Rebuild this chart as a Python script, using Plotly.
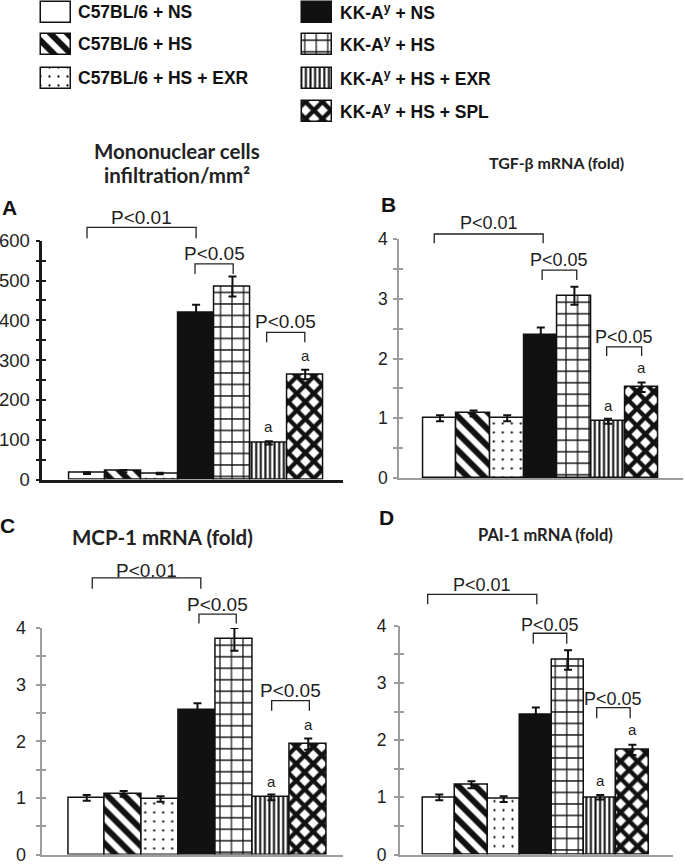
import plotly.graph_objects as go

# ---------------- data ----------------
groups = ["C57BL/6 + NS", "C57BL/6 + HS", "C57BL/6 + HS + EXR",
          "KK-A<sup>y</sup> + NS", "KK-A<sup>y</sup> + HS",
          "KK-A<sup>y</sup> + HS + EXR", "KK-A<sup>y</sup> + HS + SPL"]

mono_vals = [16, 21, 15, 418, 485, 92, 264]
mono_err = [2, 3, 2, 21, 25, 4, 12]
tgf_vals = [1.0, 1.08, 1.0, 2.4, 3.05, 0.95, 1.52]
tgf_err = [0.05, 0.05, 0.05, 0.12, 0.15, 0.04, 0.08]
mcp_vals = [1.0, 1.07, 0.98, 2.55, 3.8, 1.01, 1.95]
mcp_err = [0.05, 0.05, 0.05, 0.12, 0.2, 0.05, 0.1]
pai_vals = [1.0, 1.22, 0.97, 2.45, 3.4, 1.0, 1.83]
pai_err = [0.05, 0.06, 0.05, 0.12, 0.17, 0.04, 0.09]

mono_ticks = [0, 100, 200, 300, 400, 500, 600]
fold_ticks = [0, 1, 2, 3, 4]

comparisons = [(0, 3, "P<0.01"), (3, 4, "P<0.05"), (5, 6, "P<0.05")]
marked = [5, 6]  # bars flagged with "a"

# ---------------- styles ----------------
W, H = 685, 865
def px(x): return x / W
def py(y): return 1 - y / H

fill_colors = ["white", "white", "white", "#111111", "white", "white", "white"]
pat_shapes = ["", "\\", ".", "", "+", "|", "x"]
pat_sizes = [8, 12, 9, 8, 11.5, 4.6, 12]
pat_solid = [0.3, 0.5, 0.05, 0.3, 0.2, 0.45, 0.6]

panels = [
    dict(vals=mono_vals, err=mono_err, ticks=mono_ticks, minor=50, ymax=600,
         xd=(42.3, 343), yd=(240.7, 479.5), xr=(-1.23, 7.04), col="#1a1a1a", lw=2.5,
         title=["<b>Mononuclear cells</b>", "<b>infiltration/mm²</b>"],
         tpos=[(177, 151), (177, 175)], tfs=20.5,
         letter="A", lpos=(9, 207), fs=19, tkfs=18.5, standoff=2,
         br=[(0.0, 3.0, 1.056, 1.010, 1.097), (2.97, 4.02, 0.903, 0.861, 0.947),
             (4.94, 5.99, 0.616, 0.575, 0.662)],
         amark=[0.220, 0.518]),
    dict(vals=tgf_vals, err=tgf_err, ticks=fold_ticks, minor=0.5, ymax=4,
         xd=(399.3, 683.3), yd=(239, 478), xr=(-1.21, 7.24), col="#9c9c9c", lw=2,
         title=["<b>TGF-β mRNA (fold)</b>"], tpos=[(556, 162)], tfs=16,
         letter="B", lpos=(388, 205), fs=18, tkfs=17.5, standoff=2,
         br=[(-0.17, 3.07, 1.021, 0.982, 1.066), (3.04, 4.07, 0.870, 0.828, 0.912),
             (4.96, 6.0, 0.549, 0.510, 0.591)],
         amark=[0.305, 0.461]),
    dict(vals=mcp_vals, err=mcp_err, ticks=fold_ticks, minor=0.5, ymax=4,
         xd=(41.7, 343.3), yd=(628, 854.5), xr=(-1.22, 6.95), col="#9c9c9c", lw=2,
         title=["<b>MCP-1 mRNA (fold)</b>"], tpos=[(162, 537)], tfs=20.5,
         letter="C", lpos=(7, 525), fs=19, tkfs=18, standoff=6,
         br=[(0.15, 3.09, 1.221, 1.173, 1.256), (3.04, 4.05, 1.061, 1.020, 1.105),
             (5.01, 6.03, 0.679, 0.635, 0.725)],
         amark=[0.323, 0.573]),
    dict(vals=pai_vals, err=pai_err, ticks=fold_ticks, minor=0.5, ymax=4,
         xd=(400, 673.3), yd=(625.7, 854.5), xr=(-1.22, 7.27), col="#9c9c9c", lw=2,
         title=["<b>PAI-1 mRNA (fold)</b>"], tpos=[(545, 535)], tfs=16.5,
         letter="D", lpos=(387, 517), fs=18, tkfs=17.5, standoff=4,
         br=[(-0.36, 3.03, 1.137, 1.094, 1.176), (2.92, 3.96, 0.967, 0.921, 1.003),
             (4.89, 5.93, 0.642, 0.595, 0.681)],
         amark=[0.325, 0.545]),
]

TXT = "#1e1e1e"
ARIAL = "Liberation Sans, Arial, sans-serif"
TITLEF = "Lato, Carlito, Calibri, sans-serif"

fig = go.Figure()
layout = dict(template="none", width=W, height=H, margin=dict(l=0, r=0, t=0, b=0, pad=0),
              paper_bgcolor="white", plot_bgcolor="white", showlegend=False,
              barmode="overlay", bargap=0)
shapes, annotations = [], []


def add_bars(xs, ys, xa, ya, err=None, width=1, base=None):
    for k in range(len(xs)):
        pat = dict(shape=pat_shapes[k], size=pat_sizes[k], solidity=pat_solid[k],
                   fgcolor="#111111", bgcolor="white", fillmode="replace")
        kw = {}
        if err is not None:
            kw["error_y"] = dict(type="data", array=[err[k]], color="#111111",
                                 thickness=2, width=4)
        if base is not None:
            kw["base"] = [base[k]]
        fig.add_trace(go.Bar(
            x=[xs[k]], y=[ys[k]], xaxis=xa, yaxis=ya, width=width,
            marker=dict(color=fill_colors[k], line=dict(color="#111111", width=1.5),
                        pattern=pat), hoverinfo="skip", **kw))


for i, p in enumerate(panels):
    n = i + 1
    xa = "x" if n == 1 else f"x{n}"
    ya = "y" if n == 1 else f"y{n}"
    yo = f"y{n + 4}"
    add_bars(groups, p["vals"], xa, ya, err=p["err"])
    fig.add_trace(go.Scatter(x=[], y=[], xaxis=xa, yaxis=yo, hoverinfo="skip"))
    ticktext = [str(t) for t in p["ticks"]]
    layout[f"xaxis{'' if n == 1 else n}"] = dict(
        domain=[px(p["xd"][0]), px(p["xd"][1])], anchor=ya, range=list(p["xr"]),
        type="category", categoryorder="array", categoryarray=groups,
        showline=True, linecolor=p["col"], linewidth=p["lw"], showticklabels=False,
        ticks="", showgrid=False, zeroline=False, fixedrange=True, automargin=False)
    common = dict(range=[0, p["ymax"]], tickmode="array", tickvals=p["ticks"],
                  ticklen=4, tickwidth=2, tickcolor=p["col"], showgrid=False,
                  zeroline=False, fixedrange=True, automargin=False)
    layout[f"yaxis{'' if n == 1 else n}"] = dict(
        domain=[py(p["yd"][1]), py(p["yd"][0])], anchor=xa,
        showline=True, linecolor=p["col"], linewidth=p["lw"], ticks="outside",
        ticktext=ticktext, ticklabelstandoff=int(p["standoff"]),
        ticklabeloverflow="allow",
        tickfont=dict(family=ARIAL, size=p["tkfs"], color=TXT),
        minor=dict(dtick=p["minor"], ticks="outside", ticklen=4, tickwidth=2,
                   tickcolor=p["col"]), **common)
    layout[f"yaxis{n + 4}"] = dict(
        overlaying=ya, anchor=xa, showline=False, ticks="inside",
        showticklabels=False,
        minor=dict(dtick=p["minor"], ticks="inside", ticklen=4, tickwidth=2,
                   tickcolor=p["col"]), **common)
    for (x0, x1, yt, yb, ytxt), (_, _, label) in zip(p["br"], comparisons):
        shapes.append(dict(type="path", xref=xa, yref=f"{ya} domain",
                           path=f"M{x0},{yb} L{x0},{yt} L{x1},{yt} L{x1},{yb}",
                           line=dict(color="#222222", width=1.3)))
        annotations.append(dict(x=(x0 + x1) / 2, y=ytxt, xref=xa, yref=f"{ya} domain",
                                text=label, showarrow=False, xanchor="center",
                                yanchor="middle",
                                font=dict(family=ARIAL, size=p["fs"], color=TXT)))
    for k, yy in zip(marked, p["amark"]):
        annotations.append(dict(x=k, y=yy, xref=xa, yref=f"{ya} domain", text="a",
                                showarrow=False, xanchor="center", yanchor="middle",
                                font=dict(family=ARIAL, size=15, color=TXT)))
    for t, (tx, ty) in zip(p["title"], p["tpos"]):
        annotations.append(dict(x=px(tx), y=py(ty), xref="paper", yref="paper",
                                text=t, showarrow=False, xanchor="center",
                                yanchor="middle",
                                font=dict(family=TITLEF, size=p["tfs"], color="#222222")))
    annotations.append(dict(x=px(p["lpos"][0]), y=py(p["lpos"][1]), xref="paper",
                            yref="paper", text=f"<b>{p['letter']}</b>", showarrow=False,
                            xanchor="center", yanchor="middle",
                            font=dict(family=ARIAL, size=21, color="#111111")))

# ---------------- legend (custom, pixel-based axes) ----------------
leg_col = [0, 0, 0, 1, 1, 1, 1]
leg_row = [0, 1, 2, 0, 1, 2, 3]
col_x = [55.5, 316.7]
text_x = [76, 338]
row_c = [12, 44, 78, 111]
sw_h = 21
add_bars([col_x[c] for c in leg_col], [sw_h] * 7, "x9", "y9",
         width=30, base=[row_c[r] - sw_h / 2 for r in leg_row])
layout["xaxis9"] = dict(domain=[0, 1], range=[0, W], visible=False, anchor="y9",
                        fixedrange=True, automargin=False)
layout["yaxis9"] = dict(domain=[py(130), 1], range=[130, 0], visible=False, anchor="x9",
                        fixedrange=True, automargin=False)
for g, c, r in zip(groups, leg_col, leg_row):
    annotations.append(dict(x=text_x[c], y=row_c[r], xref="x9", yref="y9",
                            text=f"<b>{g}</b>", showarrow=False, xanchor="left",
                            yanchor="middle",
                            font=dict(family=ARIAL, size=17.5, color="#111111")))

layout["shapes"] = shapes
layout["annotations"] = annotations
fig.update_layout(**layout)
fig.write_html("out.html", config={"displayModeBar": False},
               post_script="document.body.style.margin='0px';"
                           "document.body.style.overflow='hidden';")
